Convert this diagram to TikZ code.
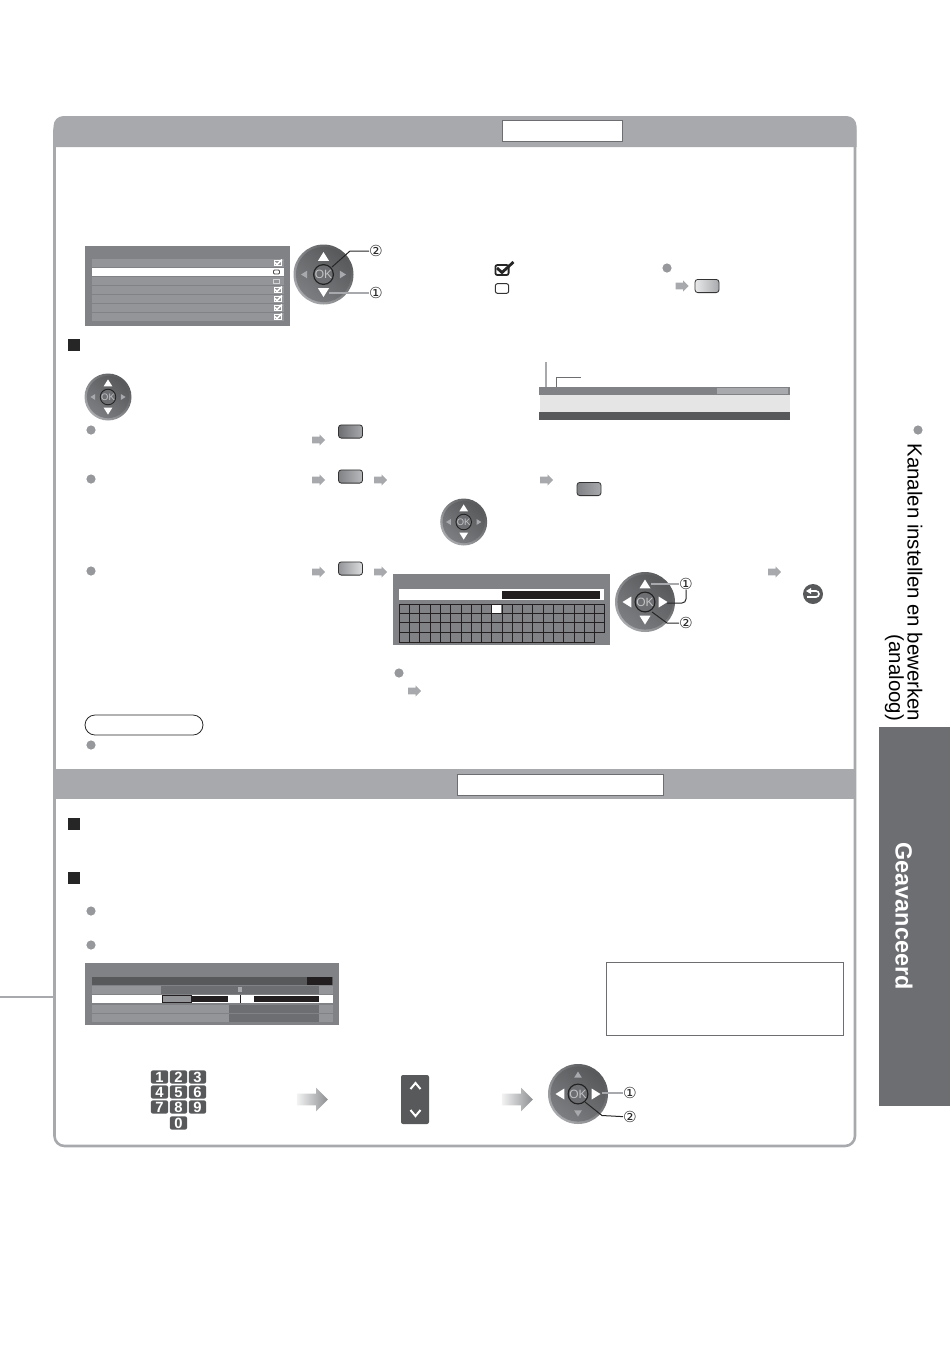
\documentclass[tikz,border=0pt]{standalone}
\usepackage{fontspec}
\setmainfont{Liberation Sans}
\newfontfamily\digitfont{DejaVu Sans}
\usetikzlibrary{shapes.arrows}
\definecolor{panelgray}{HTML}{A7A9AC}
\definecolor{menugray}{HTML}{808285}
\definecolor{rowgray}{HTML}{939598}
\definecolor{rowdark}{HTML}{6D6E71}
\definecolor{stripdark}{HTML}{58595B}
\definecolor{cellblack}{HTML}{231F20}
\newcommand{\okpad}[8]{%
	\node[padring,minimum size=#4 pt] (#1) at (#2,#3) {};
	\node[padface,minimum size=#4 pt - 2.4pt] at (#1) {};
	\begin{scope}[shift={(#2,#3)},scale=#4/30]
		\fill[#5] (-#7,-22.5+1.6*#7) -- (#7,-22.5+1.6*#7) -- (0,-22.5) -- cycle;
		\fill[#5] (-#7,22.5-1.6*#7) -- (#7,22.5-1.6*#7) -- (0,22.5) -- cycle;
		\fill[#6] (-22.5+1.6*#8,-#8) -- (-22.5+1.6*#8,#8) -- (-22.5,0) -- cycle;
		\fill[#6] (22.5-1.6*#8,-#8) -- (22.5-1.6*#8,#8) -- (22.5,0) -- cycle;
		\fill[black!70!rowdark] (0,0) circle (10.5);
		\fill[rowdark] (0,0) circle (9.2);
	\end{scope}
	\node[padtext,scale=#4/30] (#1ok) at (#2,#3) {OK};
}
\begin{document}
\begin{tikzpicture}[x=0.5pt,y=-0.5pt]
		\tikzstyle{every node}=[inner sep=0pt, outer sep=0pt]
		\tikzstyle{padring}=[circle, shading=axis, left color=stripdark, right color=panelgray, shading angle=315]
		\tikzstyle{padface}=[circle, shading=axis, left color=stripdark, right color=rowdark!60!rowgray, shading angle=320]
		\tikzstyle{padtext}=[text=panelgray!70!white, font=\fontsize{6}{6}\selectfont]
		\tikzstyle{digit}=[font=\digitfont\fontsize{7.6}{8}\selectfont, text=black!85]
		\tikzstyle{blob}=[circle, fill=panelgray!90!black, minimum size=4.6pt]
		\tikzstyle{garrow}=[single arrow, fill=panelgray, inner ysep=1.5pt, minimum height=6.5pt, minimum width=5.6pt, single arrow head extend=1.1pt, single arrow head indent=0pt]
		\tikzstyle{bigarrow}=[single arrow, shading=axis, left color=panelgray!15!white, right color=menugray!90!white, inner ysep=2.75pt, minimum height=15.5pt, minimum width=11.5pt, single arrow head extend=3pt, single arrow head indent=0pt]
		\tikzstyle{remote}=[rectangle, rounded corners=1.4pt, draw=black!80, line width=0.4pt, minimum width=12pt, minimum height=6.6pt]
		\tikzstyle{keycap}=[rectangle, rounded corners=1pt, fill=stripdark, text=white, minimum width=8.6pt, minimum height=6.6pt, font=\bfseries\fontsize{7.4}{8}\selectfont]
		\tikzstyle{leaderb}=[line width=0.5pt, black!85]
		\tikzstyle{leaderg}=[line width=0.6pt, panelgray]
		\useasboundingbox (0,0) rectangle (950,1351);
		%-----frame
		 \draw[panelgray, line width=1.3pt, rounded corners=5pt] (54.5,120) rectangle (855,1146);
		 \fill[panelgray] (53.5,147) [rounded corners=5pt] -- (53.5,116) -- (856.5,116) [sharp corners] -- (856.5,147) -- cycle;
		 \fill[panelgray] (54,769) rectangle (856,799);
		 \draw[panelgray, line width=1pt] (0,996.5) -- (54,996.5);
		 \node[draw=rowdark, fill=white, line width=0.5pt, minimum width=60pt, minimum height=10.5pt] (hdbox) at (562,130.5) {};
		 \node[draw=rowdark, fill=white, line width=0.5pt, minimum width=103pt, minimum height=10.5pt] (hdboxb) at (560,784.5) {};
		%-----side tab
		 \fill[rowdark] (879,727) rectangle (950,1106);
		 \node[rotate=-90, anchor=west, font=\fontsize{10.2}{12}\selectfont] (sidea) at (915,443.5) {Kanalen instellen en bewerken};
		 \node[rotate=-90, anchor=east, font=\fontsize{10.2}{12}\selectfont] (sideb) at (894.5,721) {(analoog)};
		 \node[rotate=-90, font=\bfseries\fontsize{11.7}{12}\selectfont, text=white] (sidec) at (904,916) {Geavanceerd};
		%-----bullets and squares
		 \foreach \name/\x/\y in {ba/91/430, bb/91/479, bc/91/571, bd/91/745, be/667/268, bf/399/673, bg/91/911, bh/91/945, bi/918/430}
		 \node[blob] (\name) at (\x,\y) {};
		 \foreach \name/\y in {sa/345, sb/824, sc/878}
		 \node[fill=black!85, minimum size=5.8pt] (\name) at (74,\y) {};
		%-----small arrows
		 \foreach \name/\x/\y in {ga/317/440, gb/317/480, gc/317/572, gd/379/480, ge/379/572, gf/545/480, gg/773/572, gh/413/691, gi/680.5/286}
		 \node[garrow] (\name) at (\x,\y) {};
		%-----remote buttons
		 \node[remote, left color=rowdark, right color=panelgray] (ra) at (350.5,431.5) {};
		 \node[remote, left color=menugray, right color=panelgray!80!white] (rb) at (350.5,476.5) {};
		 \node[remote, left color=rowgray, right color=panelgray!40!white] (rc) at (350.5,568.5) {};
		 \node[remote, left color=menugray, right color=panelgray] (rd) at (589,489) {};
		 \node[remote, left color=panelgray!25!white, right color=panelgray] (re) at (707,286) {};
		 \node[rectangle, draw=black!80, fill=white, line width=0.5pt, rounded corners=1pt, minimum width=6.6pt, minimum height=4.8pt] (boxempty) at (502,288.5) {};
		 \node[rectangle, draw=black!85, fill=white, line width=0.9pt, rounded corners=1pt, minimum width=6.6pt, minimum height=5pt] (boxcheck) at (502,270) {};
		 \draw[line width=1.4pt, black!85] (497,268) -- (502,272.5) -- (513.5,262);
		 \node[circle, fill=stripdark, minimum size=10pt] (rback) at (813,594) {};
		 \draw[white, line width=0.8pt] (810,591) -- (816,591) arc (-90:90:3) -- (807,597);
		 \fill[white] (806,591) -- (811,588) -- (811,594) -- cycle;
		%-----first menu
		 \fill[menugray] (85,246) rectangle (290,326);
		 \foreach \y in {259,277,286,295,304,313} \fill[rowgray] (92,\y) rectangle (284,\y+8.3);
		 \fill[white] (92,268) rectangle (284,276);
		 \foreach \y in {263,290,299,308,317} {
		 	\draw[white, line width=0.4pt] (274,\y-2.5) rectangle (281,\y+2.5);
		 	\draw[white, line width=0.8pt] (275,\y-0.5) -- (277,\y+1.5) -- (282,\y-3.5);
		 }
		 \draw[black!70, line width=0.4pt, rounded corners=0.5pt] (273.5,270) rectangle (279.5,274);
		 \draw[panelgray!50!white, line width=0.4pt] (273.5,279) rectangle (279.5,283);
		%-----bar
		 \fill[menugray] (539,387) rectangle (790,395);
		 \fill[panelgray] (717,388) rectangle (788,394);
		 \fill[black!10] (539.5,395) rectangle (790,412);
		 \fill[stripdark] (539,412) rectangle (790,420);
		 \coordinate (bara) at (546,387);
		 \coordinate (bartopa) at (546,362);
		 \coordinate (barb) at (556,387);
		 \coordinate (bartopb) at (581,377);
		 \draw[leaderg] (bara) -- (bartopa);
		 \draw[line width=0.5pt, rowdark] (barb) |- (bartopb);
		%-----keyboard
		 \fill[menugray] (393,574) rectangle (610,645);
		 \fill[white] (399,589) rectangle (604,600);
		 \fill[cellblack] (502,590.5) rectangle (600,599);
		 \fill[white] (492,604) rectangle (501,613);
		 \foreach \i in {0,...,20} \draw[cellblack, line width=0.45pt] (399.3+\i*10.28,604) -- (399.3+\i*10.28,632.5);
		 \foreach \i in {0,...,19} \draw[cellblack, line width=0.45pt] (399.3+\i*10.28,632.5) -- (399.3+\i*10.28,642);
		 \foreach \j in {0,...,3} \draw[cellblack, line width=0.45pt] (399.3,604+\j*9.45) -- (605,604+\j*9.45);
		 \draw[cellblack, line width=0.45pt] (399.3,642) -- (594.6,642);
		%-----second menu
		 \fill[menugray] (85,963) rectangle (339,1025);
		 \fill[stripdark] (92,977) rectangle (333,985);
		 \fill[cellblack] (307,977) rectangle (332,985);
		 \fill[rowgray] (92,986) rectangle (333,994);
		 \fill[rowdark] (161,986) rectangle (319,994);
		 \fill[panelgray] (238,987) rectangle (242,992);
		 \fill[white] (92,995) rectangle (333,1003);
		 \fill[rowgray] (163,996) rectangle (191,1002);
		 \fill[cellblack] (191,996) rectangle (228,1002);
		 \fill[cellblack] (254,996) rectangle (319,1002);
		 \draw[cellblack, line width=0.4pt] (162,995.5) rectangle (191,1002.5);
		 \draw[cellblack, line width=0.5pt] (240.5,995) -- (240.5,1003);
		 \foreach \y in {1005,1014} {
		 	\fill[rowgray] (92,\y) rectangle (333,\y+7.8);
		 	\fill[rowdark] (229,\y) rectangle (319,\y+7.8);
		 }
		%-----note boxes
		 \node[draw=black!85, line width=0.4pt, rounded corners=5pt, minimum width=59pt, minimum height=10pt] (pill) at (144,725) {};
		 \node[draw=rowdark, line width=0.5pt, minimum width=118.5pt, minimum height=36.5pt] (notebox) at (724.5,998.5) {};
		%-----keypad
		 \foreach \k/\x/\y in {1/159.5/1077, 2/178.5/1077, 3/197.5/1077, 4/159.5/1092, 5/178.5/1092, 6/197.5/1092, 7/159.5/1107, 8/178.5/1107, 9/197.5/1107, 0/178.5/1123}
		 \node[keycap] (key\k) at (\x,\y) {\k};
		 \node[bigarrow] (biga) at (309.5,1099.5) {};
		 \node[bigarrow] (bigb) at (514.5,1099.5) {};
		 \node[rectangle, rounded corners=1pt, fill=stripdark, minimum width=14pt, minimum height=24.5pt] (updown) at (415,1099.5) {};
		 \draw[white, line width=1pt] (410.5,1089) -- (415.5,1083) -- (420.5,1089);
		 \draw[white, line width=1pt] (410.5,1110) -- (415.5,1116) -- (420.5,1110);
		%-----pads
		 \okpad{pada}{323.5}{274.5}{30}{white}{panelgray}{5.5}{3.8}
		 \okpad{padb}{108}{397}{23.5}{white}{panelgray}{5.5}{3.8}
		 \okpad{padc}{463.7}{522}{23.5}{white}{panelgray}{5.5}{3.8}
		 \okpad{padd}{645}{602}{30}{white}{white}{5.5}{5.5}
		 \okpad{pade}{578}{1094}{30}{panelgray}{white}{3.8}{5.5}
		%-----digits and leaders
		 \node[digit] (da) at (376,251) {②};
		 \node[digit] (db) at (376,293) {①};
		 \node[digit] (dc) at (686,584) {①};
		 \node[digit] (dd) at (686,623) {②};
		 \node[digit] (de) at (630,1093) {①};
		 \node[digit] (df) at (630,1117) {②};
		 \coordinate (la) at (332,267);
		 \coordinate (lb) at (329,293);
		 \coordinate (lc) at (651,584);
		 \coordinate (ld) at (667,603);
		 \coordinate (le) at (652,612);
		 \coordinate (lf) at (602,1093);
		 \coordinate (lg) at (585,1102);
		 \draw[leaderb] (la) -- (350,251) -- (da);
		 \draw[leaderg] (lb) -- (db);
		 \draw[leaderg] (lc) -- (dc);
		 \draw[leaderb, rounded corners=2pt] (ld) -- (686,603) -- (dc);
		 \draw[leaderb] (le) -- (667,623) -- (dd);
		 \draw[leaderg] (lf) -- (de);
		 \draw[leaderb] (lg) -- (602,1115.5) -- (df);
\end{tikzpicture}
\end{document}
